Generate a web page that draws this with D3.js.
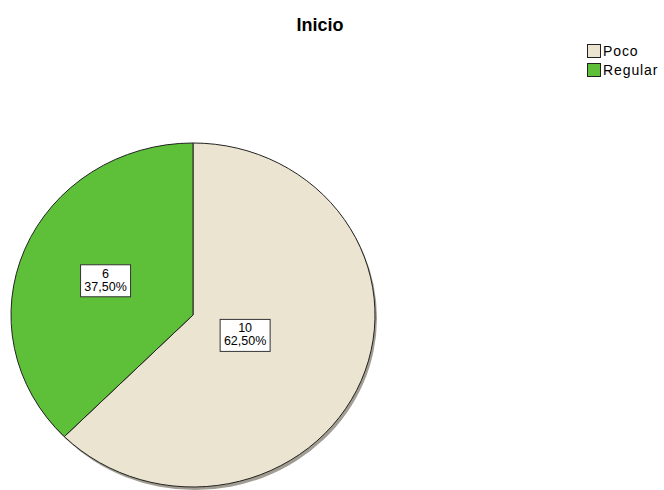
<!DOCTYPE html>
<html>
<head>
<meta charset="utf-8">
<script src="https://cdn.jsdelivr.net/npm/d3@7"></script>
<style>
  body { margin: 0; background: #fff; }
  text { font-family: "Liberation Sans", Arial, sans-serif; }
</style>
</head>
<body>
<svg id="chart"></svg>
<script>
// chart values
const categories = ['Poco', 'Regular'];
const counts = [10, 6];
const percentLabels = ['62,50%', '37,50%'];
const colors = ['#eae4d0', '#5ec039'];

const width = 664;
const height = 490;
const cx = 193;
const cy = 315;
const rx = 182;
const ry = 172;
// how far along the radius each label box sits
const labelDist = [0.31, 0.52];

const svg = d3.select('#chart')
  .attr('width', width)
  .attr('height', height);

svg.append('text')
  .attr('x', 320)
  .attr('y', 31)
  .attr('text-anchor', 'middle')
  .style('font-size', '18px')
  .style('font-weight', 'bold')
  .text('Inicio');

// shadow under the pie
svg.append('ellipse')
  .attr('cx', cx + 2)
  .attr('cy', cy + 3)
  .attr('rx', rx)
  .attr('ry', ry)
  .attr('fill', '#a19d92');

const pie = d3.pie().sort(null);
const arc = d3.arc().innerRadius(0).outerRadius(rx);
const arcs = pie(counts);

const chart = svg.append('g')
  .attr('transform', `translate(${cx}, ${cy}) scale(1, ${ry / rx})`);

chart.selectAll('path')
  .data(arcs)
  .join('path')
  .attr('d', arc)
  .attr('fill', (_d, i) => colors[i])
  .attr('stroke', '#222')
  .attr('stroke-width', 1)
  .attr('vector-effect', 'non-scaling-stroke');

// labels
const labels = svg.append('g');
arcs.forEach((d, i) => {
  const a = (d.startAngle + d.endAngle) / 2;
  const x = cx + Math.sin(a) * rx * labelDist[i];
  const y = cy - Math.cos(a) * ry * labelDist[i];
  const g = labels.append('g').attr('transform', `translate(${x}, ${y})`);
  g.append('rect')
    .attr('x', -25)
    .attr('y', -16)
    .attr('width', 50)
    .attr('height', 32)
    .attr('fill', '#fff')
    .attr('stroke', '#333')
    .attr('stroke-width', 1);
  g.append('text')
    .attr('text-anchor', 'middle')
    .attr('y', -3)
    .style('font-size', '12.5px')
    .text(counts[i]);
  g.append('text')
    .attr('text-anchor', 'middle')
    .attr('y', 10)
    .style('font-size', '12.5px')
    .text(percentLabels[i]);
});

// legend
const legend = svg.append('g').attr('transform', 'translate(587, 44)');
categories.forEach((c, i) => {
  const row = legend.append('g').attr('transform', `translate(0, ${i * 19})`);
  row.append('rect')
    .attr('x', 0.5)
    .attr('y', 0.5)
    .attr('width', 13)
    .attr('height', 13)
    .attr('fill', colors[i])
    .attr('stroke', '#222');
  row.append('text')
    .attr('x', 16)
    .attr('y', 12)
    .style('font-size', '14px')
    .style('letter-spacing', '0.9px')
    .text(c);
});
</script>
</body>
</html>
